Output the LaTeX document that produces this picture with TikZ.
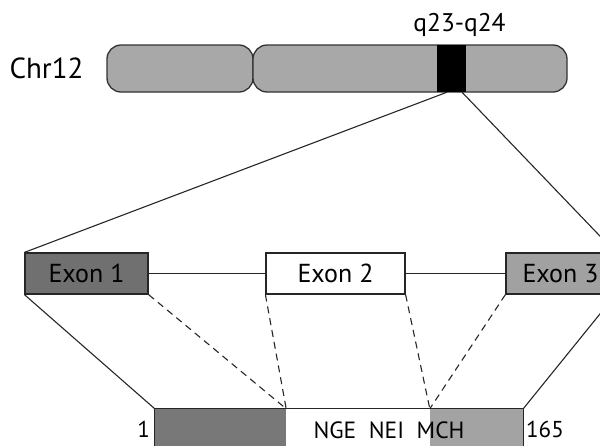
\documentclass[tikz,border=0pt]{standalone}
\usepackage{fontspec}
\setmainfont{PT Sans}
\usetikzlibrary{calc,positioning}
\definecolor{chrgray}{gray}{0.66}
\definecolor{exdark}{gray}{0.44}
\definecolor{exlight}{gray}{0.63}
\definecolor{bardark}{gray}{0.47}
\definecolor{barlight}{gray}{0.64}
\tikzset{
		chrarm/.style={draw=black!80, line width=1.3pt, fill=chrgray, rounded corners=14pt, minimum height=47pt, inner sep=0pt},
		exonbox/.style={draw=black!85, line width=1.2pt, minimum height=41pt, inner sep=0pt, font=\fontsize{26}{30}\selectfont},
		protseg/.style={draw=none, minimum height=51pt, inner sep=0pt},
		link/.style={line width=1.1pt, black!85},
		splice/.style={link, dash pattern=on 7pt off 5pt},
		lbl/.style={font=\fontsize{23}{27}\selectfont, inner sep=0pt}
	}

\begin{document}
\begin{tikzpicture}[x=1pt, y=-1pt]
		\useasboundingbox (0,0) rectangle (600,445);
		\clip (0,0) rectangle (600,445);
		% chromosome
		\node[chrarm, minimum width=146pt] (parm) at (180,68.5) {};
		\node[chrarm, minimum width=314pt] (qarm) at (410,68.5) {};
		\node[fill=black, minimum width=29pt, minimum height=47pt, inner sep=0pt] (band) at (451.5,68.5) {};
		\node[lbl, font=\fontsize{29}{33}\selectfont] (chr) at (46.5,68) {Chr12};
		\node[lbl, anchor=base, font=\fontsize{25.5}{30}\selectfont] (loc) at (459.5,31) {q23-q24};
		\coordinate (qleft) at ($(band.south)+(-4.5,0)$);
		\coordinate (qright) at ($(band.south)+(10.5,0)$);
		% gene
		\node[exonbox, fill=exdark, minimum width=123pt] (ex1) at (86.5,273.5) {Exon 1};
		\node[exonbox, fill=white, minimum width=139pt] (ex2) at (335.5,273.5) {Exon 2};
		\node[exonbox, fill=exlight, minimum width=109pt] (ex3) at (560.5,273.5) {Exon 3};
		\draw[link] (ex1.east) -- (ex2.west);
		\draw[link] (ex2.east) -- (ex3.west);
		\draw[link] (qleft) -- (ex1.north west);
		\draw[link] (qright) -- (ex3.north east);
		% protein
		\node[protseg, fill=bardark, minimum width=131pt] (dom1) at (220.5,434.5) {};
		\node[protseg, fill=white, minimum width=144pt] (dom2) at (358,434.5) {};
		\node[protseg, fill=barlight, minimum width=93pt] (dom3) at (476.5,434.5) {};
		\draw[link] (dom1.south west) -- (dom1.north west) -- (dom3.north east) -- (dom3.south east);
		\node[lbl, anchor=east] (start) at (150,429) {1};
		\node[lbl, anchor=west] (stop) at (526,429) {165};
		\node[lbl, font=\fontsize{23.5}{28}\selectfont] (motif) at (389,430) {NGE\ \ NEI\ \ MCH};
		% exon to protein
		\draw[link] (ex1.south west) -- (dom1.north west);
		\draw[link] (ex3.south east) -- (dom3.north east);
		\draw[splice] (ex1.south east) -- (dom1.north east);
		\draw[splice] (ex2.south west) -- (dom1.north east);
		\draw[splice] (ex2.south east) -- (dom3.north west);
		\draw[splice] (ex3.south west) -- (dom3.north west);
	\end{tikzpicture}
\end{document}
